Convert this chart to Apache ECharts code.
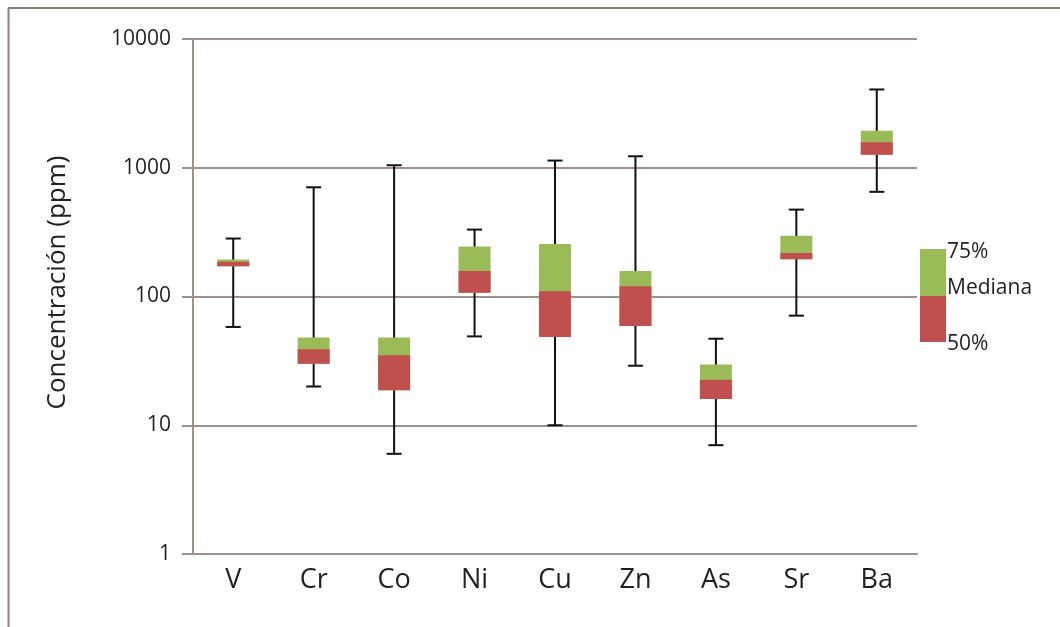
<!DOCTYPE html>
<html>
<head>
<meta charset="utf-8">
<script src="https://cdn.jsdelivr.net/npm/echarts@6/dist/echarts.min.js"></script>
<style>
html,body{margin:0;padding:0;background:#fff;}
#chart{width:1060px;height:627px;}
</style>
</head>
<body>
<div id="chart"></div>
<script>
const categories = ['V', 'Cr', 'Co', 'Ni', 'Cu', 'Zn', 'As', 'Sr', 'Ba'];
const minValues    = [58, 20, 6, 49, 10, 29, 7, 71, 650];
const q1Values     = [172, 30, 18.7, 107, 48.5, 59, 16, 195, 1259];
const medianValues = [186, 39, 35, 158, 110, 120, 22.6, 218, 1578];
const q3Values     = [194, 48, 48, 244, 256, 158, 29.7, 297, 1935];
const maxValues    = [282, 705, 1046, 331, 1137, 1228, 47, 473, 4055];
const yTickLabels  = ['1', '10', '100', '1000', '10000'];
const legendLabels = ['75%', 'Mediana', '50%'];

const GREEN = '#9bbb59';
const RED = '#c0504d';
const GRID = '#9a928b';
const TEXT = '#231f20';
const FONT = '"Open Sans", "Noto Sans", sans-serif';

const boxData = categories.map((c, i) => [i, minValues[i], q1Values[i], medianValues[i], q3Values[i], maxValues[i]]);

const chart = echarts.init(document.getElementById('chart'), null, {renderer: 'canvas'});

function renderBox(params, api) {
  const idx = api.value(0);
  const pMin = api.coord([idx, api.value(1)]);
  const pQ1 = api.coord([idx, api.value(2)]);
  const pMed = api.coord([idx, api.value(3)]);
  const pQ3 = api.coord([idx, api.value(4)]);
  const pMax = api.coord([idx, api.value(5)]);
  const x = pMin[0];
  const bw = 32, cw = 15;
  const lineStyle = {stroke: '#111', lineWidth: 2};
  return {
    type: 'group',
    children: [
      {type: 'line', shape: {x1: x, y1: pMax[1], x2: x, y2: pMin[1]}, style: lineStyle},
      {type: 'line', shape: {x1: x - cw / 2, y1: pMax[1], x2: x + cw / 2, y2: pMax[1]}, style: lineStyle},
      {type: 'line', shape: {x1: x - cw / 2, y1: pMin[1], x2: x + cw / 2, y2: pMin[1]}, style: lineStyle},
      {type: 'rect', shape: {x: x - bw / 2, y: pQ3[1], width: bw, height: pQ1[1] - pQ3[1]}, style: {fill: GREEN}},
      {type: 'rect', shape: {x: x - bw / 2, y: pMed[1], width: bw, height: pQ1[1] - pMed[1]}, style: {fill: RED}}
    ]
  };
}

chart.setOption({
  animation: false,
  backgroundColor: '#ffffff',
  grid: {left: 193, top: 39, right: 143, bottom: 73, containLabel: false},
  xAxis: {
    type: 'category',
    data: categories,
    boundaryGap: true,
    axisLine: {lineStyle: {color: GRID, width: 2}},
    axisTick: {length: 8, lineStyle: {color: GRID, width: 2}},
    axisLabel: {color: TEXT, fontSize: 27, fontFamily: FONT, margin: 13},
    splitLine: {show: false}
  },
  yAxis: {
    type: 'log',
    logBase: 10,
    min: 1,
    max: 10000,
    name: 'Concentración (ppm)',
    nameLocation: 'middle',
    nameGap: 122,
    nameRotate: 90,
    nameTextStyle: {color: TEXT, fontSize: 26, fontFamily: FONT, padding: [0, 0, 0, 28]},
    axisLine: {show: true, lineStyle: {color: GRID, width: 2}},
    axisTick: {show: true, length: 11, lineStyle: {color: GRID, width: 2}},
    axisLabel: {color: TEXT, fontSize: 21, fontFamily: FONT, margin: 22,
      formatter: v => { const s = String(Math.round(v)); return yTickLabels.includes(s) ? s : ''; }},
    splitLine: {show: true, lineStyle: {color: GRID, width: 2}}
  },
  graphic: [
    {type: 'line', shape: {x1: 8, y1: 8, x2: 1060, y2: 8}, style: {stroke: '#8a8178', lineWidth: 2}},
    {type: 'line', shape: {x1: 8.5, y1: 8, x2: 8.5, y2: 627}, style: {stroke: '#8a8178', lineWidth: 2}},
    {type: 'rect', shape: {x: 920, y: 249, width: 26, height: 93}, style: {fill: GREEN}},
    {type: 'rect', shape: {x: 920, y: 296, width: 26, height: 46}, style: {fill: RED}},
    {type: 'text', left: 947, top: 242, style: {text: legendLabels[0], fill: TEXT, font: '21px ' + FONT}},
    {type: 'text', left: 947, top: 278, style: {text: legendLabels[1], fill: TEXT, font: '21px ' + FONT}},
    {type: 'text', left: 947, top: 334, style: {text: legendLabels[2], fill: TEXT, font: '21px ' + FONT}}
  ],
  series: [{
    type: 'custom',
    renderItem: renderBox,
    data: boxData,
    encode: {x: 0, y: [1, 2, 3, 4, 5]},
    z: 5
  }]
});
</script>
</body>
</html>
